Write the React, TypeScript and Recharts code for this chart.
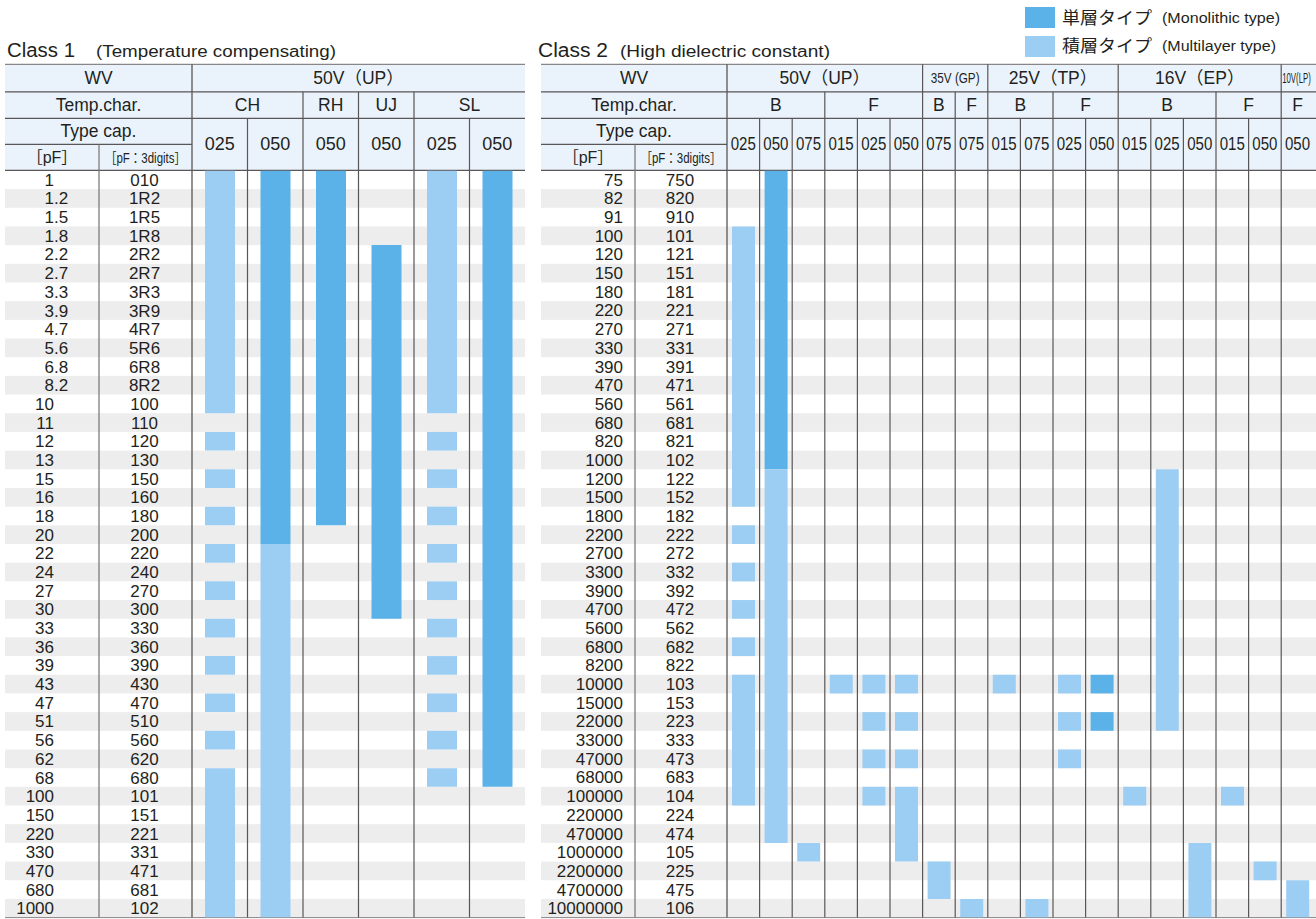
import { BarChart, Bar, XAxis, YAxis, Cell } from "recharts";

type Kind = "mono" | "multi";
type Seg = [string, string, Kind];
type Col = { name: string; segs: Seg[] };

const MONO = "#5AB2E8";
const MULTI = "#9CCDF2";
const STRIPE = "#EDEDED";
const HEAD = "#EAF3FB";
const INK = "#231F20";
const LINE = "#5a5556";
const FONT = "'Liberation Sans', Arial, 'Noto Sans CJK JP', sans-serif";

const ROW_H = 18.68;
const BODY_TOP = 170.4;
const HDR_Y = [64.3, 91.8, 118.3, 144.3, 170.4];

// ---- Class 1 (Temperature compensating) ----
const class1Caps = ["1", "1.2", "1.5", "1.8", "2.2", "2.7", "3.3", "3.9", "4.7", "5.6", "6.8", "8.2", "10", "11", "12", "13", "15", "16", "18", "20", "22", "24", "27", "30", "33", "36", "39", "43", "47", "51", "56", "62", "68", "100", "150", "220", "330", "470", "680", "1000"];
const class1Codes = ["010", "1R2", "1R5", "1R8", "2R2", "2R7", "3R3", "3R9", "4R7", "5R6", "6R8", "8R2", "100", "110", "120", "130", "150", "160", "180", "200", "220", "240", "270", "300", "330", "360", "390", "430", "470", "510", "560", "620", "680", "101", "151", "221", "331", "471", "681", "102"];
const class1Volts: [string, number][] = [["50V（UP）", 6]];
const class1Temps: [string, number][] = [["CH", 2], ["RH", 1], ["UJ", 1], ["SL", 2]];
const class1Types = ["025", "050", "050", "050", "025", "050"];

const ch025: Seg[] = [["1", "10", "multi"], ["12", "12", "multi"], ["15", "15", "multi"], ["18", "18", "multi"], ["22", "22", "multi"], ["27", "27", "multi"], ["33", "33", "multi"], ["39", "39", "multi"], ["47", "47", "multi"], ["56", "56", "multi"], ["68", "1000", "multi"]];
const ch050: Seg[] = [["1", "20", "mono"], ["22", "1000", "multi"]];
const rh050: Seg[] = [["1", "18", "mono"]];
const uj050: Seg[] = [["2.2", "30", "mono"]];
const sl025: Seg[] = [["1", "10", "multi"], ["12", "12", "multi"], ["15", "15", "multi"], ["18", "18", "multi"], ["22", "22", "multi"], ["27", "27", "multi"], ["33", "33", "multi"], ["39", "39", "multi"], ["47", "47", "multi"], ["56", "56", "multi"], ["68", "68", "multi"]];
const sl050: Seg[] = [["1", "68", "mono"]];

const class1Cols: Col[] = [
  { name: "CH-025", segs: ch025 },
  { name: "CH-050", segs: ch050 },
  { name: "RH-050", segs: rh050 },
  { name: "UJ-050", segs: uj050 },
  { name: "SL-025", segs: sl025 },
  { name: "SL-050", segs: sl050 },
];

// ---- Class 2 (High dielectric constant) ----
const class2Caps = ["75", "82", "91", "100", "120", "150", "180", "220", "270", "330", "390", "470", "560", "680", "820", "1000", "1200", "1500", "1800", "2200", "2700", "3300", "3900", "4700", "5600", "6800", "8200", "10000", "15000", "22000", "33000", "47000", "68000", "100000", "220000", "470000", "1000000", "2200000", "4700000", "10000000"];
const class2Codes = ["750", "820", "910", "101", "121", "151", "181", "221", "271", "331", "391", "471", "561", "681", "821", "102", "122", "152", "182", "222", "272", "332", "392", "472", "562", "682", "822", "103", "153", "223", "333", "473", "683", "104", "224", "474", "105", "225", "475", "106"];
const class2Volts: [string, number][] = [["50V（UP）", 6], ["35V (GP)", 2], ["25V（TP）", 4], ["16V（EP）", 5], ["10V(LP)", 1]];
const class2Temps: [string, number][] = [["B", 3], ["F", 3], ["B", 1], ["F", 1], ["B", 2], ["F", 2], ["B", 3], ["F", 2], ["F", 1]];
const class2Types = ["025", "050", "075", "015", "025", "050", "075", "075", "015", "075", "025", "050", "015", "025", "050", "015", "050", "050"];

const up_b025: Seg[] = [["100", "1500", "multi"], ["2200", "2200", "multi"], ["3300", "3300", "multi"], ["4700", "4700", "multi"], ["6800", "6800", "multi"], ["10000", "100000", "multi"]];
const up_b050: Seg[] = [["75", "1000", "mono"], ["1200", "470000", "multi"]];
const up_b075: Seg[] = [["1000000", "1000000", "multi"]];
const up_f015: Seg[] = [["10000", "10000", "multi"]];
const up_f025: Seg[] = [["10000", "10000", "multi"], ["22000", "22000", "multi"], ["47000", "47000", "multi"], ["100000", "100000", "multi"]];
const up_f050: Seg[] = [["10000", "10000", "multi"], ["22000", "22000", "multi"], ["47000", "47000", "multi"], ["100000", "1000000", "multi"]];
const gp_b075: Seg[] = [["2200000", "4700000", "multi"]];
const gp_f075: Seg[] = [["10000000", "10000000", "multi"]];
const tp_b015: Seg[] = [["10000", "10000", "multi"]];
const tp_b075: Seg[] = [["10000000", "10000000", "multi"]];
const tp_f025: Seg[] = [["10000", "10000", "multi"], ["22000", "22000", "multi"], ["47000", "47000", "multi"]];
const tp_f050: Seg[] = [["10000", "10000", "mono"], ["22000", "22000", "mono"]];
const ep_b015: Seg[] = [["100000", "100000", "multi"]];
const ep_b025: Seg[] = [["1200", "22000", "multi"]];
const ep_b050: Seg[] = [["1000000", "10000000", "multi"]];
const ep_f015: Seg[] = [["100000", "100000", "multi"]];
const ep_f050: Seg[] = [["2200000", "2200000", "multi"]];
const lp_f050: Seg[] = [["4700000", "10000000", "multi"]];

const class2Cols: Col[] = [
  { name: "UP-B-025", segs: up_b025 },
  { name: "UP-B-050", segs: up_b050 },
  { name: "UP-B-075", segs: up_b075 },
  { name: "UP-F-015", segs: up_f015 },
  { name: "UP-F-025", segs: up_f025 },
  { name: "UP-F-050", segs: up_f050 },
  { name: "GP-B-075", segs: gp_b075 },
  { name: "GP-F-075", segs: gp_f075 },
  { name: "TP-B-015", segs: tp_b015 },
  { name: "TP-B-075", segs: tp_b075 },
  { name: "TP-F-025", segs: tp_f025 },
  { name: "TP-F-050", segs: tp_f050 },
  { name: "EP-B-015", segs: ep_b015 },
  { name: "EP-B-025", segs: ep_b025 },
  { name: "EP-B-050", segs: ep_b050 },
  { name: "EP-F-015", segs: ep_f015 },
  { name: "EP-F-050", segs: ep_f050 },
  { name: "LP-F-050", segs: lp_f050 },
];

type Geo = {
  left: number; // table left
  split: number; // pF | code divider
  dataX: number; // first data column
  colW: number;
  fillRight: number;
  caps: string[];
  codes: string[];
  cols: Col[];
  volts: [string, number][];
  temps: [string, number][];
  types: string[];
  barSize: number;
  narrow: boolean;
  pfRight: number;
  decimalAlign: boolean;
};

const geo1: Geo = {
  left: 5, split: 99, dataX: 192, colW: 55.5, fillRight: 525,
  caps: class1Caps, codes: class1Codes, cols: class1Cols,
  volts: class1Volts, temps: class1Temps, types: class1Types,
  barSize: 30, narrow: false, pfRight: 54, decimalAlign: true,
};
const geo2: Geo = {
  left: 541, split: 635, dataX: 727, colW: 32.6, fillRight: 1316,
  caps: class2Caps, codes: class2Codes, cols: class2Cols,
  volts: class2Volts, temps: class2Temps, types: class2Types,
  barSize: 23, narrow: true, pfRight: 623, decimalAlign: false,
};

function buildRows(cols: Col[], caps: string[]) {
  const n = caps.length;
  return cols.map((c) => {
    const row: Record<string, any> = { name: c.name };
    c.segs.forEach((s, i) => {
      const a = caps.indexOf(s[0]);
      const b = caps.indexOf(s[1]);
      row["s" + i] = [n - b - 1, n - a];
      row["k" + i] = s[2];
    });
    return row;
  });
}

function RowTick(props: any) {
  const { y, payload, g } = props;
  const n = g.caps.length;
  const i = Math.round(n - 0.5 - payload.value);
  const cap: string = g.caps[i];
  const code: string = g.codes[i];
  const ty = y + 6;
  const fs = 17;
  const pfX = g.pfRight - g.left;
  const codeX = (g.split + g.dataX) / 2 - g.left - 1;
  let pf;
  if (g.decimalAlign && cap.includes(".")) {
    const [a, b] = cap.split(".");
    pf = (
      <>
        <text x={pfX} y={ty} textAnchor="end" fontSize={fs} fill={INK} fontFamily={FONT}>{a}</text>
        <text x={pfX} y={ty} textAnchor="start" fontSize={fs} fill={INK} fontFamily={FONT}>{"." + b}</text>
      </>
    );
  } else {
    pf = <text x={pfX} y={ty} textAnchor="end" fontSize={fs} fill={INK} fontFamily={FONT}>{cap}</text>;
  }
  return (
    <g>
      {pf}
      <text x={codeX} y={ty} textAnchor="middle" fontSize={fs} fill={INK} fontFamily={FONT}>{code}</text>
    </g>
  );
}

function TableChart({ g }: { g: Geo }) {
  const n = g.caps.length;
  const data = buildRows(g.cols, g.caps);
  const maxSeg = Math.max(...g.cols.map((c) => c.segs.length));
  const labelW = g.dataX - g.left;
  const width = labelW + g.cols.length * g.colW;
  const ticks = g.caps.map((_, i) => n - i - 0.5);
  return (
    <div style={{ position: "absolute", left: g.left, top: 0 }}>
      <BarChart
        width={width}
        height={919}
        data={data}
        margin={{ top: BODY_TOP, bottom: 919 - BODY_TOP - n * ROW_H, left: 0, right: 0 }}
        barSize={g.barSize}
        barGap={-g.barSize}
      >
        <XAxis dataKey="name" hide />
        <YAxis
          type="number"
          domain={[0, n]}
          ticks={ticks}
          interval={0}
          width={labelW}
          axisLine={false}
          tickLine={false}
          allowDataOverflow
          tick={(p: any) => <RowTick {...p} g={g} />}
        />
        {Array.from({ length: maxSeg }, (_, i) => (
          <Bar key={i} dataKey={"s" + i} isAnimationActive={false}>
            {data.map((d, j) => (
              <Cell key={j} fill={d["k" + i] === "mono" ? MONO : MULTI} />
            ))}
          </Bar>
        ))}
      </BarChart>
    </div>
  );
}

function TableFrame({ g }: { g: Geo }) {
  const n = g.caps.length;
  const bottom = BODY_TOP + n * ROW_H;
  const hs = 17.5;
  const els: any[] = [];
  // stripes
  for (let i = 1; i < n; i += 2) {
    els.push(<rect key={"st" + i} x={g.left} y={BODY_TOP + i * ROW_H} width={g.fillRight - g.left} height={ROW_H} fill={STRIPE} />);
  }
  // header fill
  els.push(<rect key="hf" x={g.left} y={HDR_Y[0]} width={g.fillRight - g.left} height={HDR_Y[4] - HDR_Y[0]} fill={HEAD} />);
  // horizontal header lines
  [0, 1, 2, 4].forEach((k) => {
    els.push(<line key={"hl" + k} x1={g.left} x2={g.fillRight} y1={HDR_Y[k]} y2={HDR_Y[k]} stroke={k === 0 ? "#8a8687" : LINE} strokeWidth={1.2} />);
  });
  els.push(<line key="hl3" x1={g.left} x2={g.dataX} y1={HDR_Y[3]} y2={HDR_Y[3]} stroke={LINE} strokeWidth={1.2} />);
  els.push(<line key="hlb" x1={g.left} x2={g.fillRight} y1={bottom} y2={bottom} stroke="#8a8687" strokeWidth={1} />);
  // vertical lines
  els.push(<line key="vs" x1={g.split} x2={g.split} y1={HDR_Y[3]} y2={bottom} stroke="#77716f" strokeWidth={1.2} />);
  els.push(<line key="vd" x1={g.dataX} x2={g.dataX} y1={HDR_Y[0]} y2={bottom} stroke={LINE} strokeWidth={1.3} />);
  const voltB = new Set<number>();
  let acc = 0;
  g.volts.forEach(([, s]) => { acc += s; voltB.add(acc); });
  const tempB = new Set<number>();
  acc = 0;
  g.temps.forEach(([, s]) => { acc += s; tempB.add(acc); });
  for (let k = 1; k < g.cols.length; k++) {
    const x = g.dataX + k * g.colW;
    const y1 = voltB.has(k) ? HDR_Y[0] : tempB.has(k) ? HDR_Y[1] : HDR_Y[2];
    els.push(<line key={"vc" + k} x1={x} x2={x} y1={y1} y2={bottom} stroke={LINE} strokeWidth={1.2} />);
  }
  // header texts
  const t = (key: string, x: number, y: number, s: string, size = hs, len?: number) => (
    <text key={key} x={x} y={y} textAnchor="middle" fontSize={size} fill={INK} fontFamily={FONT}
      {...(len ? { textLength: len, lengthAdjust: "spacingAndGlyphs" } : {})}>{s}</text>
  );
  // horizontally squeezed text (condensed look)
  const sq = (key: string, x: number, y: number, s: string, size: number, sx: number) => (
    <text key={key} transform={`translate(${x},${y}) scale(${sx},1)`} x={0} y={0} textAnchor="middle"
      fontSize={size} fill={INK} fontFamily={FONT}>{s}</text>
  );
  const mid = (a: number, b: number) => (a + b) / 2;
  const base = (k: number) => mid(HDR_Y[k], HDR_Y[k + 1]) + 6;
  els.push(t("wv", mid(g.left, g.dataX), base(0), "WV"));
  els.push(t("tc", mid(g.left, g.dataX), base(1), "Temp.char."));
  els.push(t("ty", mid(g.left, g.dataX), base(2), "Type cap."));
  els.push(t("pf", mid(g.left, g.split), base(3), "［pF］", 16));
  els.push(sq("pf3", mid(g.split, g.dataX), base(3) - 0.5, "［pF：3digits］", 14, 0.82));
  acc = 0;
  g.volts.forEach(([label, s], i) => {
    const x0 = g.dataX + acc * g.colW;
    acc += s;
    const x1 = g.dataX + acc * g.colW;
    const small = g.narrow && s <= 2;
    if (small) {
      const sx = s === 1 ? 0.56 : 0.78;
      els.push(sq("v" + i, mid(x0, x1) - (s === 1 ? 1 : 0), base(0) - 1, label, s === 1 ? 14 : 15, sx));
    } else {
      els.push(t("v" + i, mid(x0, x1), base(0), label));
    }
  });
  acc = 0;
  g.temps.forEach(([label, s], i) => {
    const x0 = g.dataX + acc * g.colW;
    acc += s;
    const x1 = g.dataX + acc * g.colW;
    els.push(t("t" + i, mid(x0, x1), base(1), label));
  });
  g.types.forEach((label, i) => {
    const x0 = g.dataX + i * g.colW;
    const y = mid(HDR_Y[2], HDR_Y[4]) + 6;
    els.push(g.narrow ? sq("c" + i, x0 + g.colW / 2, y, label, 17.5, 0.86) : t("c" + i, x0 + g.colW / 2, y, label, 18));
  });
  return <g>{els}</g>;
}

export default function App() {
  return (
    <div style={{ position: "absolute", left: 0, top: 0, width: 1316, height: 919, background: "#fff", overflow: "hidden" }}>
      <svg width={1316} height={919} style={{ position: "absolute", left: 0, top: 0 }}>
        <text x={7} y={57} fontSize={19.5} fill={INK} fontFamily={FONT} textLength={68} lengthAdjust="spacingAndGlyphs">Class 1</text>
        <text x={96} y={57} fontSize={16} fill={INK} fontFamily={FONT} textLength={240} lengthAdjust="spacingAndGlyphs">(Temperature compensating)</text>
        <text x={538} y={57} fontSize={19.5} fill={INK} fontFamily={FONT} textLength={70} lengthAdjust="spacingAndGlyphs">Class 2</text>
        <text x={620} y={57} fontSize={16} fill={INK} fontFamily={FONT} textLength={210} lengthAdjust="spacingAndGlyphs">(High dielectric constant)</text>
        <rect x={1025} y={7} width={30} height={21} fill={MONO} />
        <text x={1062} y={24} fontSize={17} fill={INK} fontFamily="'Noto Sans CJK JP', sans-serif" textLength={90} lengthAdjust="spacingAndGlyphs">単層タイプ</text>
        <text x={1162} y={23} fontSize={14} fill={INK} fontFamily={FONT} textLength={118} lengthAdjust="spacingAndGlyphs">(Monolithic type)</text>
        <rect x={1025} y={36} width={30} height={21} fill={MULTI} />
        <text x={1062} y={52} fontSize={17} fill={INK} fontFamily="'Noto Sans CJK JP', sans-serif" textLength={90} lengthAdjust="spacingAndGlyphs">積層タイプ</text>
        <text x={1162} y={51} fontSize={14} fill={INK} fontFamily={FONT} textLength={114} lengthAdjust="spacingAndGlyphs">(Multilayer type)</text>
        <TableFrame g={geo1} />
        <TableFrame g={geo2} />
      </svg>
      <TableChart g={geo1} />
      <TableChart g={geo2} />
    </div>
  );
}
